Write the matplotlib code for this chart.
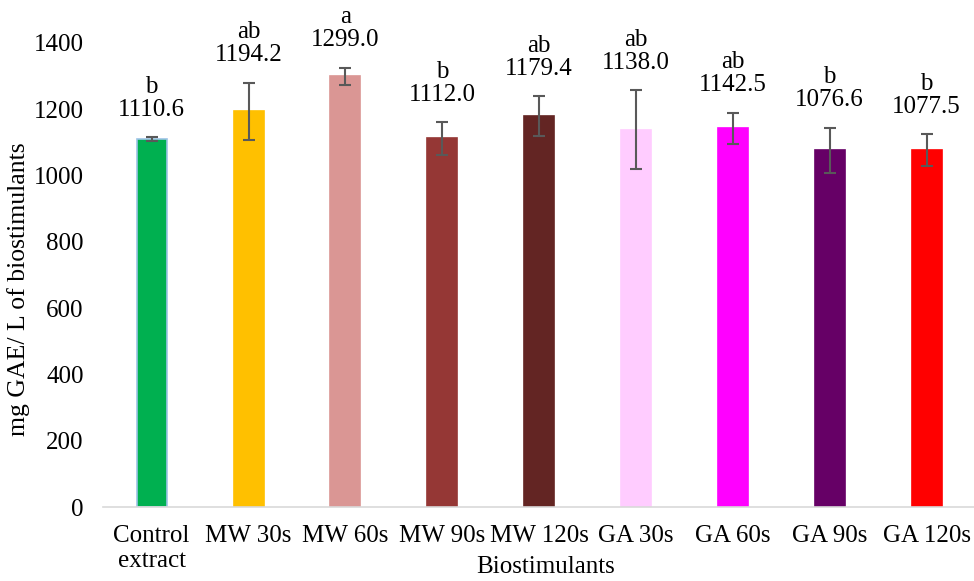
import matplotlib
matplotlib.use("Agg")
from matplotlib import pyplot as plt
import numpy as np

# values
treatments = ["Control\nextract", "MW 30s", "MW 60s", "MW 90s", "MW 120s",
              "GA 30s", "GA 60s", "GA 90s", "GA 120s"]
means = [1110.6, 1194.2, 1299.0, 1112.0, 1179.4, 1138.0, 1142.5, 1076.6, 1077.5]
errors = [5, 86, 27, 49, 60, 119, 47, 68, 47]
letters = ["b", "ab", "a", "b", "ab", "ab", "ab", "b", "b"]
barColors = ["#00B050", "#FFC000", "#DA9694", "#953735", "#632523",
             "#FFCCFF", "#FF00FF", "#660066", "#FF0000"]

plt.rcParams["font.family"] = ["Liberation Serif", "DejaVu Serif"]
plt.rcParams["font.size"] = 18

fig = plt.figure(figsize=(9.74, 5.81), dpi=100)
ax = fig.add_axes([0.106, 0.127, 0.895, 0.799])

x = np.arange(len(treatments))
edges = ["#9DC3E6"] + barColors[1:]
ax.bar(x, means, width=0.31, color=barColors, edgecolor=edges, linewidth=1.2, zorder=2)
ax.errorbar(x, means, yerr=errors, fmt="none", ecolor="#595959",
            elinewidth=1.5, capsize=4.5, capthick=1.5, zorder=3)

for xi, m, e, letter in zip(x, means, errors, letters):
    ax.annotate(letter + "\n" + f"{m:.1f}", (xi, m + e), xytext=(0, 12),
                textcoords="offset points", ha="center", va="bottom",
                fontsize=18, linespacing=1.05)

ax.set_xlim(-0.5, len(treatments) - 0.5)
ax.set_ylim(0, 1400)
ax.set_yticks(np.arange(0, 1401, 200))
ax.set_xticks(x)
ax.set_xticklabels(treatments, linespacing=1.15)
ax.tick_params(axis="both", length=0, labelsize=18)
ax.tick_params(axis="x", pad=13)
ax.tick_params(axis="y", pad=14)

for side in ["top", "right", "left"]:
    ax.spines[side].set_visible(False)
ax.spines["bottom"].set_color("#D9D9D9")
ax.spines["bottom"].set_linewidth(1.2)

ax.set_xlabel("Biostimulants", fontsize=18)
ax.set_ylabel("mg GAE/ L of biostimulants", fontsize=18.5)
ax.xaxis.set_label_coords(0.508, -0.106)
ax.yaxis.set_label_coords(-0.084, 0.47)

plt.savefig("out.png", dpi=100)
